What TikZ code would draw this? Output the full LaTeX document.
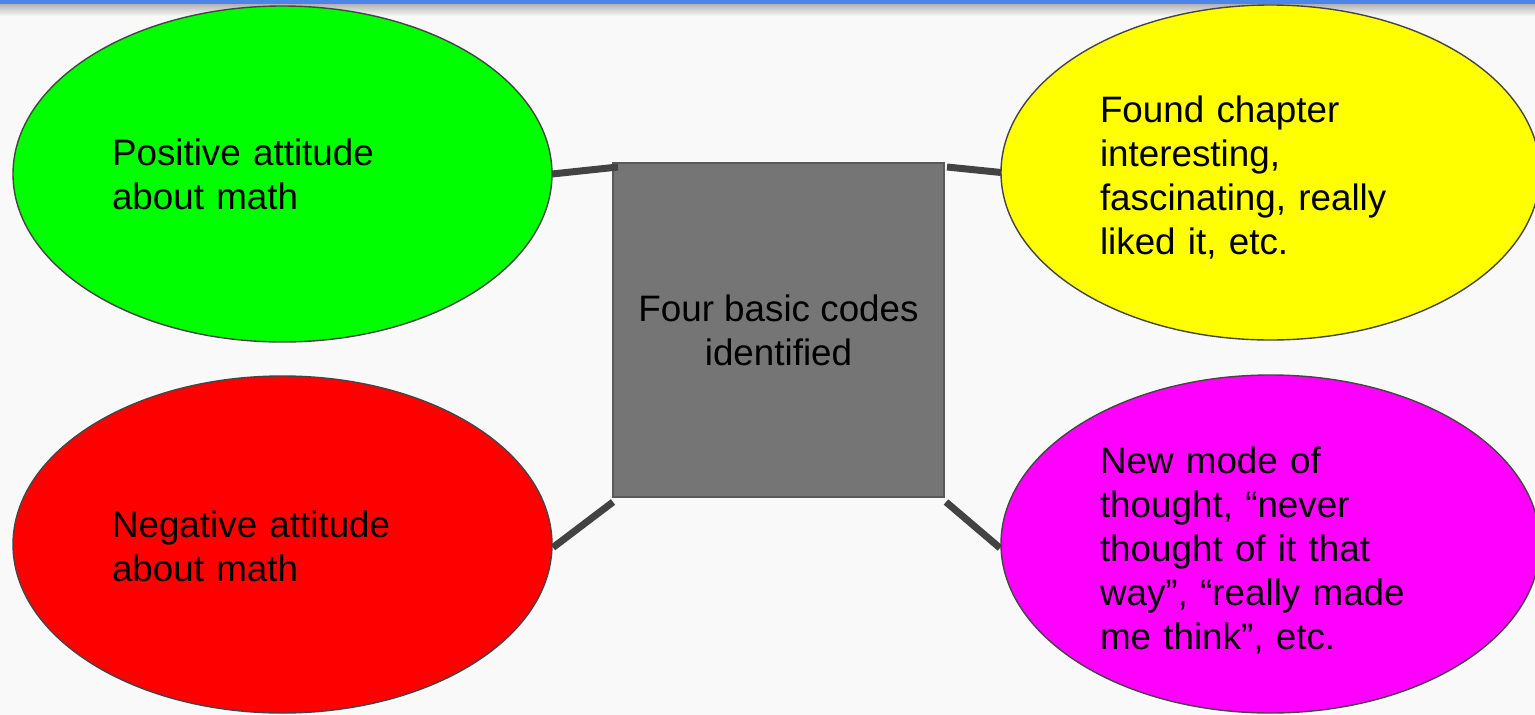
\documentclass[tikz,border=0pt]{standalone}
\usepackage{fontspec}
\setmainfont{Liberation Sans}
\usetikzlibrary{shapes.geometric,calc}
\definecolor{bg}{HTML}{F9F9F9}
\definecolor{topblue}{HTML}{4A86E8}
\definecolor{edgec}{HTML}{454545}
\definecolor{linkc}{HTML}{434343}
\definecolor{boxgray}{HTML}{757575}
\definecolor{boxedge}{HTML}{595959}
\definecolor{posfill}{HTML}{00FF00}
\definecolor{negfill}{HTML}{FF0000}
\definecolor{foundfill}{HTML}{FFFF00}
\definecolor{modefill}{HTML}{FF00FF}
\begin{document}
\begin{tikzpicture}[x=1pt,y=-1pt,
  every node/.style={outer sep=0pt},
  bubble/.style={ellipse, draw=edgec, line width=1.4pt, minimum width=539pt, minimum height=336pt, inner sep=0pt},
  bubbletext/.style={inner sep=0pt, text width=341pt, align=left, font=\fontsize{36.8}{44}\selectfont},
  codebox/.style={rectangle, draw=boxedge, fill=boxgray, line width=2pt, minimum width=331pt,
    minimum height=334pt, inner sep=0pt, align=center, font=\fontsize{36.8}{44}\selectfont},
  link/.style={draw=linkc, line width=7pt}]
\useasboundingbox (0,0) rectangle (1535,715);
\fill[bg] (0,0) rectangle (1535,715);
\shade[top color=gray!60, bottom color=bg] (0,4) rectangle (1535,16);
\fill[topblue] (0,0) rectangle (1535,4);

\node[bubble, fill=posfill] (pos) at (282.5,174) {};
\node[bubble, fill=negfill, minimum height=337pt] (neg) at (282.5,544.5) {};
\node[bubble, fill=foundfill, minimum height=335pt] (found) at (1270.5,172.5) {};
\node[bubble, fill=modefill, minimum height=338pt] (mode) at (1270.5,544) {};
\node[codebox] (codes) at (778.5,330) {Four basic codes\\identified};

\node[bubbletext] (postext) at (pos.center) {Positive attitude\\about math};
\node[bubbletext] (negtext) at ([yshift=-2pt]neg.center) {Negative attitude\\about math};
\node[bubbletext] (foundtext) at ([yshift=-5pt]found.center) {Found chapter\\interesting,\\fascinating, really\\liked it, etc.};
\node[bubbletext] (modetext) at ([yshift=-7pt]mode.center) {New mode of\\thought, “never\\thought of it that\\way”, “really made\\me think”, etc.};

\draw[link] (pos.east) -- ([shift={(5pt,-4pt)}]codes.north west);
\draw[link] ([shift={(3pt,-4pt)}]codes.north east) -- (found.west);
\draw[link] ([shift={(0pt,-5pt)}]codes.south west) -- ([shift={(1pt,-3pt)}]neg.east);
\draw[link] ([shift={(2pt,-5pt)}]codes.south east) -- ([shift={(-1pt,-4pt)}]mode.west);
\end{tikzpicture}
\end{document}
